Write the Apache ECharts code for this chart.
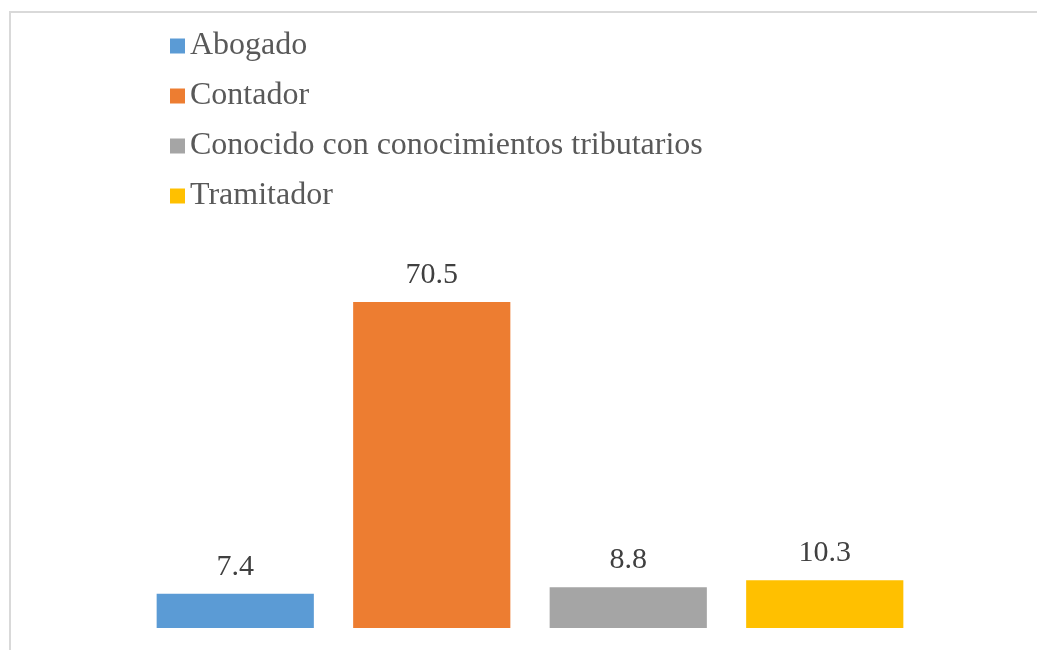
<!DOCTYPE html>
<html>
<head>
<meta charset="utf-8">
<script src="https://cdn.jsdelivr.net/npm/echarts@6/dist/echarts.min.js"></script>
<style>
  html, body { margin: 0; padding: 0; background: #fff; }
  #frame { position: absolute; left: 9px; top: 11px; width: 1040px; height: 650px;
           border-left: 2px solid #d9d9d9; border-top: 2px solid #d9d9d9; }
  #main { position: absolute; left: 0; top: 0; width: 1037px; height: 650px; }
</style>
</head>
<body>
<div id="frame"></div>
<div id="main"></div>
<script>
var categorias = ['Abogado', 'Contador', 'Conocido con conocimientos tributarios', 'Tramitador'];
var valores = [7.4, 70.5, 8.8, 10.3];
var colores = ['#5B9BD5', '#ED7D31', '#A5A5A5', '#FFC000'];

var myChart = echarts.init(document.getElementById('main'));

// una serie por categoria, para que salga en la leyenda
var series = categorias.map(function (nombre, i) {
    var data = categorias.map(function (c, j) { return j === i ? valores[i] : '-'; });
    return {
        name: nombre,
        type: 'bar',
        stack: 'total',
        barCategoryGap: '20%',
        data: data,
        itemStyle: { color: colores[i] },
        label: {
            show: true,
            position: 'top',
            distance: 12,
            fontFamily: 'Liberation Serif',
            fontSize: 30,
            color: '#404040'
        }
    };
});

var option = {
    backgroundColor: 'transparent',
    animation: false,
    legend: {
        orient: 'vertical',
        left: 165,
        top: 25,
        itemWidth: 15,
        itemHeight: 15,
        itemGap: 18,
        icon: 'rect',
        textStyle: { fontFamily: 'Liberation Serif', fontSize: 32, color: '#595959' },
        data: categorias
    },
    grid: { left: 137, right: 114, top: 258, bottom: 22 },
    xAxis: {
        type: 'category',
        data: categorias,
        axisLine: { show: false },
        axisTick: { show: false },
        axisLabel: { show: false }
    },
    yAxis: {
        type: 'value',
        min: 0,
        max: 80,
        show: false
    },
    series: series
};

myChart.setOption(option);
</script>
</body>
</html>
